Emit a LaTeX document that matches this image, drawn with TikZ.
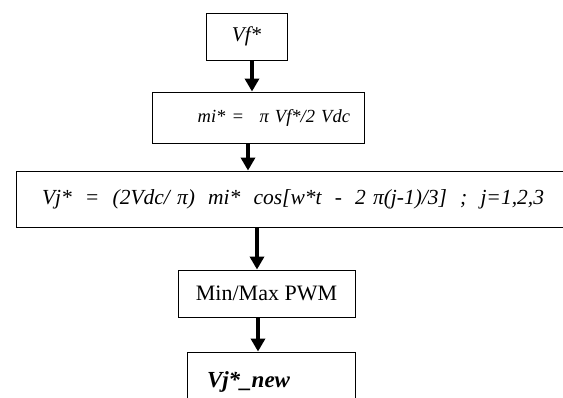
\documentclass[tikz,border=0pt]{standalone}
\usepackage{fontspec}
\setmainfont{Liberation Serif}
\usetikzlibrary{arrows.meta}

\tikzset{
  stepbox/.style={draw, line width=0.9pt, inner ysep=0pt},
  flow/.style={line width=4.5pt, -{Triangle[length=13pt,width=14pt]}}
}

\begin{document}
\begin{tikzpicture}[
                x=1pt, y=-1pt,
                every node/.style={stepbox}
            ]
            \useasboundingbox (0,0) rectangle (563,397);

            % steps of the reference generation
            \node[minimum width=81pt, minimum height=47pt,
                  font=\fontsize{21}{24}\selectfont\itshape] (vf) at (246.5,36.5) {Vf*};
            \node[text width=184pt, inner xsep=14pt, align=right, minimum height=51pt,
                  font=\fontsize{18.5}{21}\selectfont\itshape] (mi) at (258,117.5)
                  {mi* = \, π Vf*/2 Vdc};
            \node[text width=502pt, inner xsep=26pt, align=left, minimum height=56pt,
                  font=\fontsize{21.5}{24}\selectfont\itshape] (vj) at (293,199)
                  {Vj* \;= \;(2Vdc/ π) \;mi* \;cos[w*t \;- \;2 π(j-1)/3] \;; \;j=1,2,3};
            \node[minimum width=177pt, minimum height=47pt,
                  font=\fontsize{22}{25}\selectfont] (pwm) at (266.5,293.5) {Min/Max PWM};
            \node[text width=128pt, inner xsep=20pt, align=left, minimum height=60pt,
                  font=\fontsize{23}{26}\selectfont\bfseries\itshape] (vjnew) at (271,382) {Vj*\_new};

            % arrows between steps
            \draw[flow] ([xshift=5.5pt]vf.south) -- ([xshift=-6pt]mi.north);
            \draw[flow] ([xshift=-10pt]mi.south) -- ([xshift=-45pt]vj.north);
            \draw[flow] ([xshift=-36pt]vj.south) -- ([xshift=-9.5pt]pwm.north);
            \draw[flow] ([xshift=-8.5pt]pwm.south) -- ([xshift=-13pt]vjnew.north);

        \end{tikzpicture}
\end{document}
